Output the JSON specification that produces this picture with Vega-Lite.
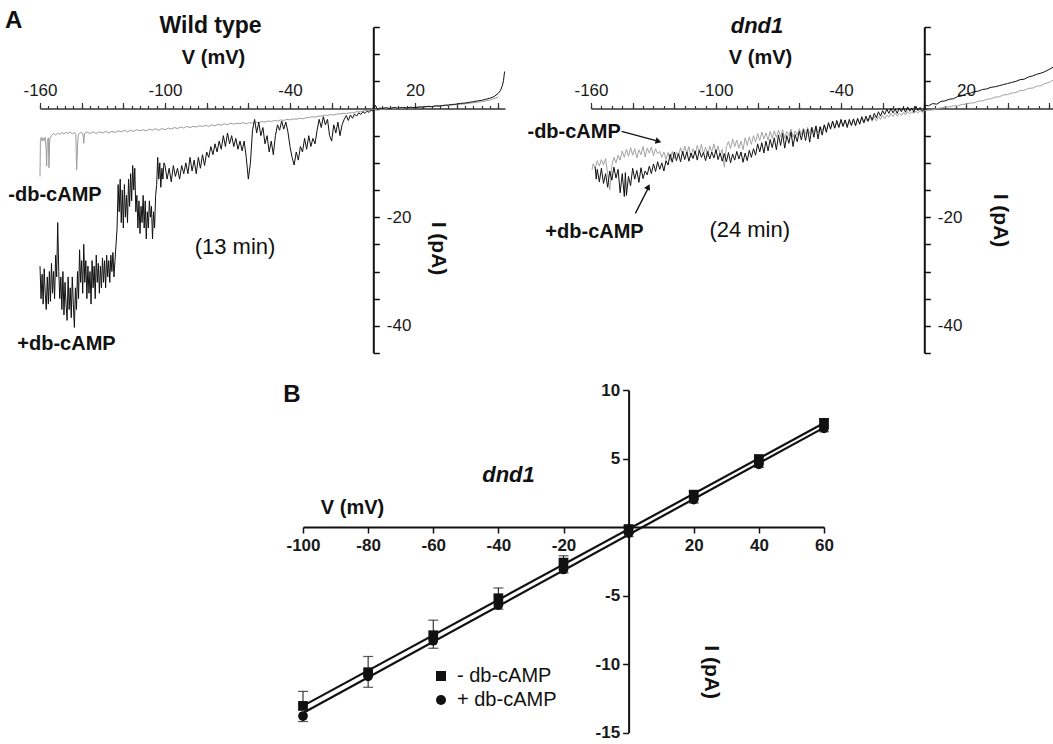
{
"$schema":"https://vega.github.io/schema/vega-lite/v6.json",
"width":1053,"height":744,"autosize":"none","padding":0,"background":"white",
"config":{"view":{"stroke":null},"axis":{"grid":false,"labelFont":"Liberation Sans","titleFont":"Liberation Sans","labelColor":"#1a1a1a","titleColor":"#111"},"text":{"font":"Liberation Sans","color":"#111"},
"legend":{"labelFont":"Liberation Sans"}},
"datasets":{
"wt_minus":[{"V":-160,"I":-12.5},{"V":-159.8,"I":-5.9},{"V":-159.4,"I":-5.3},{"V":-159,"I":-6.0},{"V":-158.5,"I":-5.4},{"V":-158,"I":-5.9},{"V":-157.5,"I":-5.3},{"V":-157,"I":-7.9},{"V":-156.8,"I":-10.6},{"V":-156.5,"I":-6.1},{"V":-156,"I":-5.4},{"V":-155.7,"I":-10.9},{"V":-155.3,"I":-5.6},{"V":-154.5,"I":-5.0},{"V":-153.5,"I":-4.6},{"V":-152.5,"I":-4.9},{"V":-151.5,"I":-4.5},{"V":-150.5,"I":-4.8},{"V":-149.5,"I":-4.4},{"V":-148.5,"I":-4.7},{"V":-147.5,"I":-4.4},{"V":-146.5,"I":-4.6},{"V":-145.5,"I":-4.3},{"V":-144.5,"I":-4.7},{"V":-143.5,"I":-4.4},{"V":-142.8,"I":-4.8},{"V":-142.4,"I":-11.3},{"V":-142,"I":-6.9},{"V":-141.6,"I":-4.8},{"V":-140.6,"I":-4.4},{"V":-139.4,"I":-4.6},{"V":-139,"I":-6.4},{"V":-138.6,"I":-4.6},{"V":-137.5,"I":-4.3},{"V":-136,"I":-4.6},{"V":-134.5,"I":-4.3},{"V":-133,"I":-4.6},{"V":-131.5,"I":-4.3},{"V":-130,"I":-4.5},{"V":-128.5,"I":-4.2},{"V":-127,"I":-4.5},{"V":-125.5,"I":-4.2},{"V":-124,"I":-4.4},{"V":-122.5,"I":-4.1},{"V":-121,"I":-4.3},{"V":-119.5,"I":-4.0},{"V":-118,"I":-4.3},{"V":-116.5,"I":-4.0},{"V":-115,"I":-4.2},{"V":-113.5,"I":-3.9},{"V":-112,"I":-4.1},{"V":-110.5,"I":-3.9},{"V":-109,"I":-4.1},{"V":-107.5,"I":-3.8},{"V":-106,"I":-4.0},{"V":-104.5,"I":-3.7},{"V":-103,"I":-4.0},{"V":-101.5,"I":-3.7},{"V":-100,"I":-3.9},{"V":-98.5,"I":-3.6},{"V":-97,"I":-3.8},{"V":-95.5,"I":-3.5},{"V":-94,"I":-3.7},{"V":-92.5,"I":-3.4},{"V":-91,"I":-3.6},{"V":-89.5,"I":-3.3},{"V":-88,"I":-3.5},{"V":-86.5,"I":-3.3},{"V":-85,"I":-3.4},{"V":-83.5,"I":-3.2},{"V":-82,"I":-3.3},{"V":-80.5,"I":-3.1},{"V":-79,"I":-3.3},{"V":-77.5,"I":-3.0},{"V":-76,"I":-3.2},{"V":-74.5,"I":-2.9},{"V":-73,"I":-3.1},{"V":-71.5,"I":-2.8},{"V":-70,"I":-3.0},{"V":-68.5,"I":-2.7},{"V":-67,"I":-2.9},{"V":-65.5,"I":-2.7},{"V":-64,"I":-2.8},{"V":-62.5,"I":-2.6},{"V":-61,"I":-2.8},{"V":-59.5,"I":-2.6},{"V":-58,"I":-2.7},{"V":-56.5,"I":-2.5},{"V":-55,"I":-2.6},{"V":-53.5,"I":-2.4},{"V":-52,"I":-2.5},{"V":-50.5,"I":-2.3},{"V":-49,"I":-2.4},{"V":-47.5,"I":-2.2},{"V":-46,"I":-2.3},{"V":-44.5,"I":-2.1},{"V":-43,"I":-2.2},{"V":-41.5,"I":-2.0},{"V":-40,"I":-2.1},{"V":-38.5,"I":-1.9},{"V":-37,"I":-2.0},{"V":-35.5,"I":-1.8},{"V":-34,"I":-1.9},{"V":-32.5,"I":-1.7},{"V":-31,"I":-1.7},{"V":-29.5,"I":-1.5},{"V":-28,"I":-1.6},{"V":-26.5,"I":-1.4},{"V":-25,"I":-1.4},{"V":-23.5,"I":-1.2},{"V":-22,"I":-1.3},{"V":-20.5,"I":-1.1},{"V":-19,"I":-1.2},{"V":-17.5,"I":-1.0},{"V":-16,"I":-1.0},{"V":-14.5,"I":-0.9},{"V":-13,"I":-0.9},{"V":-11.5,"I":-0.8},{"V":-10,"I":-0.8},{"V":-8,"I":-0.6},{"V":-6,"I":-0.6},{"V":-4,"I":-0.4},{"V":-2,"I":-0.4},{"V":0,"I":-0.2},{"V":4,"I":-0.1},{"V":8,"I":0.05},{"V":12,"I":0.0},{"V":16,"I":0.15},{"V":20,"I":0.15},{"V":24,"I":0.3},{"V":28,"I":0.35},{"V":32,"I":0.5},{"V":36,"I":0.55},{"V":40,"I":0.75},{"V":44,"I":0.85},{"V":48,"I":1.05},{"V":52,"I":1.25},{"V":56,"I":1.55},{"V":60,"I":2.1}],
"wt_plus":[{"V":-160,"I":-29},{"V":-159.5,"I":-35},{"V":-159,"I":-30.5},{"V":-158.5,"I":-36},{"V":-158,"I":-29.5},{"V":-157.5,"I":-34},{"V":-157,"I":-37},{"V":-156.5,"I":-31},{"V":-156,"I":-36},{"V":-155.5,"I":-30},{"V":-155,"I":-35.5},{"V":-154.5,"I":-28.5},{"V":-154,"I":-34},{"V":-153.5,"I":-30},{"V":-153,"I":-35},{"V":-152.5,"I":-27},{"V":-152,"I":-31},{"V":-151.5,"I":-21},{"V":-151,"I":-30},{"V":-150.5,"I":-35},{"V":-150,"I":-31},{"V":-149.5,"I":-37},{"V":-149,"I":-30},{"V":-148.5,"I":-38},{"V":-148,"I":-32},{"V":-147.5,"I":-36},{"V":-147,"I":-39},{"V":-146.5,"I":-31},{"V":-146,"I":-37},{"V":-145.5,"I":-33},{"V":-145,"I":-38.5},{"V":-144.5,"I":-31},{"V":-144,"I":-36},{"V":-143.5,"I":-40.3},{"V":-143,"I":-33},{"V":-142.5,"I":-37},{"V":-142,"I":-30},{"V":-141.5,"I":-35},{"V":-141,"I":-26},{"V":-140.5,"I":-32},{"V":-140,"I":-28},{"V":-139.5,"I":-34},{"V":-139,"I":-25},{"V":-138.5,"I":-32},{"V":-138,"I":-28},{"V":-137.5,"I":-35},{"V":-137,"I":-29},{"V":-136.5,"I":-34},{"V":-136,"I":-30},{"V":-135.5,"I":-36},{"V":-135,"I":-28},{"V":-134.5,"I":-33},{"V":-134,"I":-29},{"V":-133.5,"I":-35},{"V":-133,"I":-27},{"V":-132.5,"I":-32},{"V":-132,"I":-28.5},{"V":-131.5,"I":-34},{"V":-131,"I":-29},{"V":-130.5,"I":-33},{"V":-130,"I":-27.5},{"V":-129.5,"I":-32},{"V":-129,"I":-28},{"V":-128.5,"I":-33},{"V":-128,"I":-27},{"V":-127.5,"I":-31},{"V":-127,"I":-28},{"V":-126.5,"I":-32},{"V":-126,"I":-27},{"V":-125.5,"I":-30},{"V":-125,"I":-26.5},{"V":-124.5,"I":-31},{"V":-124,"I":-28},{"V":-123.5,"I":-25},{"V":-123,"I":-22},{"V":-122.5,"I":-14},{"V":-122,"I":-19},{"V":-121.5,"I":-13},{"V":-121,"I":-21},{"V":-120.5,"I":-15},{"V":-120,"I":-22},{"V":-119.5,"I":-14},{"V":-119,"I":-20},{"V":-118.5,"I":-16},{"V":-118,"I":-21},{"V":-117.5,"I":-13},{"V":-117,"I":-18},{"V":-116.5,"I":-12},{"V":-116,"I":-17},{"V":-115.5,"I":-10.5},{"V":-115,"I":-15},{"V":-114.5,"I":-11},{"V":-114,"I":-19},{"V":-113.5,"I":-16},{"V":-113,"I":-22},{"V":-112.5,"I":-17},{"V":-112,"I":-23},{"V":-111.5,"I":-18},{"V":-111,"I":-21},{"V":-110.5,"I":-16},{"V":-110,"I":-22},{"V":-109.5,"I":-17},{"V":-109,"I":-24},{"V":-108.5,"I":-19},{"V":-108,"I":-22},{"V":-107.5,"I":-17},{"V":-107,"I":-20},{"V":-106.5,"I":-18},{"V":-106,"I":-24},{"V":-105.5,"I":-19},{"V":-105,"I":-22},{"V":-104.5,"I":-16},{"V":-104,"I":-14},{"V":-103.5,"I":-9},{"V":-103,"I":-13},{"V":-102.5,"I":-10},{"V":-102,"I":-14.5},{"V":-101.5,"I":-11},{"V":-101,"I":-13},{"V":-100.5,"I":-10},{"V":-100,"I":-10.5},{"V":-99,"I":-13},{"V":-98,"I":-11},{"V":-97,"I":-13.5},{"V":-96,"I":-10.5},{"V":-95,"I":-12.5},{"V":-94,"I":-11},{"V":-93,"I":-13},{"V":-92,"I":-10.5},{"V":-91,"I":-12},{"V":-90,"I":-10},{"V":-89,"I":-12},{"V":-88,"I":-9},{"V":-87,"I":-11.5},{"V":-86,"I":-9.5},{"V":-85,"I":-12},{"V":-84,"I":-9},{"V":-83,"I":-11},{"V":-82,"I":-8.5},{"V":-81,"I":-10.5},{"V":-80,"I":-8},{"V":-79,"I":-9},{"V":-78,"I":-7},{"V":-77,"I":-8.5},{"V":-76,"I":-6.5},{"V":-75,"I":-8},{"V":-74,"I":-6},{"V":-73,"I":-7.5},{"V":-72,"I":-5},{"V":-71,"I":-7},{"V":-70,"I":-4.5},{"V":-69,"I":-6.5},{"V":-68,"I":-5},{"V":-67,"I":-7},{"V":-66,"I":-5.5},{"V":-65,"I":-7.5},{"V":-64,"I":-6},{"V":-63,"I":-7.8},{"V":-62,"I":-6},{"V":-61,"I":-9},{"V":-60,"I":-13},{"V":-59,"I":-10},{"V":-58,"I":-4},{"V":-57,"I":-2},{"V":-56,"I":-4.5},{"V":-55,"I":-2.5},{"V":-54,"I":-5},{"V":-53,"I":-3.5},{"V":-52,"I":-6.5},{"V":-51,"I":-5},{"V":-50,"I":-8},{"V":-49,"I":-6},{"V":-48,"I":-8.5},{"V":-47,"I":-5},{"V":-46,"I":-3},{"V":-45,"I":-4},{"V":-44,"I":-2.3},{"V":-43,"I":-3.8},{"V":-42,"I":-2.5},{"V":-41,"I":-4.3},{"V":-40,"I":-7},{"V":-39,"I":-9},{"V":-38,"I":-10.4},{"V":-37,"I":-8},{"V":-36,"I":-9.5},{"V":-35,"I":-7},{"V":-34,"I":-8},{"V":-33,"I":-5.5},{"V":-32,"I":-7.5},{"V":-31,"I":-5},{"V":-30,"I":-7},{"V":-29,"I":-5.5},{"V":-28,"I":-6.5},{"V":-27,"I":-4},{"V":-26,"I":-2},{"V":-25,"I":-3.5},{"V":-24,"I":-1.5},{"V":-23,"I":-3},{"V":-22,"I":-2},{"V":-21,"I":-5},{"V":-20,"I":-6},{"V":-19,"I":-3},{"V":-18,"I":-4.5},{"V":-17,"I":-2.5},{"V":-16,"I":-5},{"V":-15,"I":-3},{"V":-14,"I":-2},{"V":-13,"I":-1.3},{"V":-12,"I":-2.2},{"V":-11,"I":-1.2},{"V":-10,"I":-1.8},{"V":-9,"I":-1.0},{"V":-8,"I":-1.4},{"V":-7,"I":-0.8},{"V":-6,"I":-1.1},{"V":-5,"I":-0.6},{"V":-4,"I":-0.9},{"V":-3,"I":-0.5},{"V":-2,"I":-0.7},{"V":-1,"I":-0.3},{"V":0,"I":-0.5},{"V":1,"I":0.6},{"V":2,"I":-0.2},{"V":3,"I":0.1},{"V":4,"I":0.0},{"V":6,"I":0.15},{"V":8,"I":0.0},{"V":10,"I":0.2},{"V":12,"I":0.05},{"V":14,"I":0.2},{"V":16,"I":0.1},{"V":18,"I":0.25},{"V":20,"I":0.15},{"V":22,"I":0.3},{"V":24,"I":0.25},{"V":26,"I":0.4},{"V":28,"I":0.35},{"V":30,"I":0.5},{"V":32,"I":0.45},{"V":34,"I":0.6},{"V":36,"I":0.65},{"V":38,"I":0.75},{"V":40,"I":0.8},{"V":42,"I":0.95},{"V":44,"I":1.0},{"V":46,"I":1.15},{"V":48,"I":1.25},{"V":50,"I":1.4},{"V":52,"I":1.5},{"V":54,"I":1.7},{"V":56,"I":1.9},{"V":58,"I":2.2},{"V":60,"I":2.8},{"V":61,"I":3.3},{"V":62,"I":4.3},{"V":62.5,"I":5.2},{"V":63,"I":6.8}],
"dnd_minus":[{"V":-159.5,"I":-11.3},{"V":-159,"I":-10.2},{"V":-158,"I":-11.0},{"V":-157,"I":-9.6},{"V":-156,"I":-10.6},{"V":-155,"I":-9.4},{"V":-154,"I":-10.4},{"V":-153,"I":-9.2},{"V":-152,"I":-12.0},{"V":-151,"I":-15.0},{"V":-150,"I":-10.5},{"V":-149,"I":-9.0},{"V":-148,"I":-10.0},{"V":-147,"I":-8.6},{"V":-146,"I":-9.5},{"V":-145,"I":-7.8},{"V":-144,"I":-9.0},{"V":-143,"I":-7.5},{"V":-142,"I":-8.8},{"V":-141,"I":-7.2},{"V":-140,"I":-8.6},{"V":-139,"I":-7.4},{"V":-138,"I":-9.1},{"V":-137,"I":-7.6},{"V":-136,"I":-8.5},{"V":-135,"I":-7.0},{"V":-134,"I":-8.9},{"V":-133,"I":-7.3},{"V":-132,"I":-8.2},{"V":-131,"I":-7.1},{"V":-130,"I":-8.7},{"V":-129,"I":-7.4},{"V":-128,"I":-8.3},{"V":-127,"I":-7.9},{"V":-126,"I":-9.0},{"V":-125,"I":-8.0},{"V":-124,"I":-9.4},{"V":-123,"I":-8.1},{"V":-122,"I":-9.6},{"V":-121,"I":-7.9},{"V":-120,"I":-9.2},{"V":-119,"I":-8.0},{"V":-118,"I":-8.8},{"V":-117,"I":-7.2},{"V":-116,"I":-8.6},{"V":-115,"I":-6.9},{"V":-114,"I":-8.3},{"V":-113,"I":-7.0},{"V":-112,"I":-9.0},{"V":-111,"I":-7.4},{"V":-110,"I":-8.5},{"V":-109,"I":-6.8},{"V":-108,"I":-8.1},{"V":-107,"I":-6.6},{"V":-106,"I":-8.4},{"V":-105,"I":-7.1},{"V":-104,"I":-8.8},{"V":-103,"I":-6.9},{"V":-102,"I":-7.9},{"V":-101,"I":-6.5},{"V":-100,"I":-8.2},{"V":-99,"I":-6.9},{"V":-98,"I":-8.6},{"V":-97,"I":-7.5},{"V":-96,"I":-10.8},{"V":-95,"I":-7.0},{"V":-94,"I":-6.1},{"V":-93,"I":-7.4},{"V":-92,"I":-5.6},{"V":-91,"I":-7.0},{"V":-90,"I":-5.8},{"V":-89,"I":-7.3},{"V":-88,"I":-6.0},{"V":-87,"I":-7.6},{"V":-86,"I":-5.4},{"V":-85,"I":-6.8},{"V":-84,"I":-5.2},{"V":-83,"I":-6.6},{"V":-82,"I":-5.0},{"V":-81,"I":-6.2},{"V":-80,"I":-4.6},{"V":-79,"I":-5.9},{"V":-78,"I":-4.3},{"V":-77,"I":-5.6},{"V":-76,"I":-4.5},{"V":-75,"I":-5.8},{"V":-74,"I":-4.2},{"V":-73,"I":-5.5},{"V":-72,"I":-4.1},{"V":-71,"I":-5.3},{"V":-70,"I":-4.0},{"V":-69,"I":-5.2},{"V":-68,"I":-3.9},{"V":-67,"I":-5.5},{"V":-66,"I":-4.2},{"V":-65,"I":-5.0},{"V":-64,"I":-3.8},{"V":-63,"I":-5.3},{"V":-62,"I":-4.1},{"V":-61,"I":-4.9},{"V":-60,"I":-3.7},{"V":-59,"I":-4.8},{"V":-58,"I":-3.6},{"V":-57,"I":-4.7},{"V":-56,"I":-3.5},{"V":-55,"I":-4.6},{"V":-54,"I":-3.4},{"V":-53,"I":-4.4},{"V":-52,"I":-3.3},{"V":-51,"I":-4.5},{"V":-50,"I":-3.2},{"V":-49,"I":-4.1},{"V":-48,"I":-3.0},{"V":-47,"I":-3.9},{"V":-46,"I":-2.8},{"V":-45,"I":-3.6},{"V":-44,"I":-2.5},{"V":-43,"I":-3.7},{"V":-42,"I":-2.6},{"V":-41,"I":-3.4},{"V":-40,"I":-2.3},{"V":-39,"I":-3.3},{"V":-38,"I":-2.2},{"V":-37,"I":-3.1},{"V":-36,"I":-2.4},{"V":-35,"I":-3.2},{"V":-34,"I":-2.1},{"V":-33,"I":-2.9},{"V":-32,"I":-2.0},{"V":-31,"I":-2.8},{"V":-30,"I":-1.8},{"V":-29,"I":-2.7},{"V":-28,"I":-1.9},{"V":-27,"I":-2.5},{"V":-26,"I":-1.6},{"V":-25,"I":-2.4},{"V":-24,"I":-1.5},{"V":-23,"I":-2.3},{"V":-22,"I":-1.4},{"V":-21,"I":-2.0},{"V":-20,"I":-1.3},{"V":-19,"I":-1.9},{"V":-18,"I":-1.2},{"V":-17,"I":-1.6},{"V":-16,"I":-0.9},{"V":-15,"I":-1.5},{"V":-14,"I":-0.8},{"V":-13,"I":-1.4},{"V":-12,"I":-0.9},{"V":-11,"I":-1.3},{"V":-10,"I":-0.7},{"V":-9,"I":-1.2},{"V":-8,"I":-0.6},{"V":-7,"I":-1.0},{"V":-6,"I":-0.6},{"V":-5,"I":-0.9},{"V":-4,"I":-0.5},{"V":-3,"I":-0.8},{"V":-2,"I":-0.4},{"V":-1,"I":-0.7},{"V":0,"I":-0.4},{"V":2,"I":-0.2},{"V":4,"I":-0.3},{"V":6,"I":0.0},{"V":8,"I":0.1},{"V":10,"I":0.25},{"V":12,"I":0.3},{"V":14,"I":0.5},{"V":16,"I":0.45},{"V":18,"I":0.75},{"V":20,"I":0.8},{"V":22,"I":1.0},{"V":24,"I":1.05},{"V":26,"I":1.35},{"V":28,"I":1.4},{"V":30,"I":1.7},{"V":32,"I":1.75},{"V":34,"I":2.1},{"V":36,"I":2.15},{"V":38,"I":2.5},{"V":40,"I":2.55},{"V":42,"I":2.85},{"V":44,"I":2.95},{"V":46,"I":3.3},{"V":48,"I":3.35},{"V":50,"I":3.7},{"V":52,"I":3.75},{"V":54,"I":4.1},{"V":56,"I":4.2},{"V":58,"I":4.6},{"V":60,"I":4.8},{"V":61.8,"I":5.2}],
"dnd_plus":[{"V":-158,"I":-10.8},{"V":-157.5,"I":-13.0},{"V":-157,"I":-11.2},{"V":-156,"I":-13.5},{"V":-155,"I":-11.0},{"V":-154,"I":-13.8},{"V":-153,"I":-12.0},{"V":-152,"I":-14.5},{"V":-151,"I":-11.5},{"V":-150,"I":-13.2},{"V":-149,"I":-10.8},{"V":-148,"I":-12.8},{"V":-147,"I":-11.2},{"V":-146,"I":-15.5},{"V":-145,"I":-12.0},{"V":-144,"I":-16.2},{"V":-143.5,"I":-11.8},{"V":-143,"I":-16.0},{"V":-142,"I":-12.5},{"V":-141,"I":-14.2},{"V":-140,"I":-11.0},{"V":-139,"I":-13.0},{"V":-138,"I":-11.4},{"V":-137,"I":-13.6},{"V":-136,"I":-10.9},{"V":-135,"I":-12.9},{"V":-134,"I":-11.5},{"V":-133,"I":-12.2},{"V":-132,"I":-10.6},{"V":-131,"I":-12.0},{"V":-130,"I":-10.2},{"V":-129,"I":-11.6},{"V":-128,"I":-9.8},{"V":-127,"I":-11.2},{"V":-126,"I":-10.0},{"V":-125,"I":-11.5},{"V":-124,"I":-9.6},{"V":-123,"I":-10.4},{"V":-122,"I":-8.4},{"V":-121,"I":-9.9},{"V":-120,"I":-8.0},{"V":-119,"I":-9.6},{"V":-118,"I":-8.3},{"V":-117,"I":-9.8},{"V":-116,"I":-7.9},{"V":-115,"I":-9.4},{"V":-114,"I":-8.0},{"V":-113,"I":-9.7},{"V":-112,"I":-8.2},{"V":-111,"I":-9.2},{"V":-110,"I":-7.8},{"V":-109,"I":-9.5},{"V":-108,"I":-7.7},{"V":-107,"I":-9.0},{"V":-106,"I":-8.1},{"V":-105,"I":-9.6},{"V":-104,"I":-7.9},{"V":-103,"I":-9.3},{"V":-102,"I":-8.0},{"V":-101,"I":-9.1},{"V":-100,"I":-7.6},{"V":-99,"I":-9.4},{"V":-98,"I":-8.2},{"V":-97,"I":-9.7},{"V":-96,"I":-8.3},{"V":-95,"I":-9.8},{"V":-94,"I":-8.1},{"V":-93,"I":-10.0},{"V":-92,"I":-8.4},{"V":-91,"I":-9.5},{"V":-90,"I":-7.9},{"V":-89,"I":-9.3},{"V":-88,"I":-8.0},{"V":-87,"I":-9.9},{"V":-86,"I":-8.2},{"V":-85,"I":-9.6},{"V":-84,"I":-7.7},{"V":-83,"I":-9.0},{"V":-82,"I":-7.4},{"V":-81,"I":-8.6},{"V":-80,"I":-6.5},{"V":-79,"I":-8.0},{"V":-78,"I":-6.3},{"V":-77,"I":-8.2},{"V":-76,"I":-6.0},{"V":-75,"I":-7.8},{"V":-74,"I":-5.7},{"V":-73,"I":-7.2},{"V":-72,"I":-5.4},{"V":-71,"I":-7.6},{"V":-70,"I":-4.9},{"V":-69,"I":-6.8},{"V":-68,"I":-4.6},{"V":-67,"I":-7.3},{"V":-66,"I":-5.0},{"V":-65,"I":-6.4},{"V":-64,"I":-4.3},{"V":-63,"I":-7.0},{"V":-62,"I":-4.8},{"V":-61,"I":-6.1},{"V":-60,"I":-4.2},{"V":-59,"I":-5.8},{"V":-58,"I":-3.9},{"V":-57,"I":-5.9},{"V":-56,"I":-3.8},{"V":-55,"I":-6.2},{"V":-54,"I":-3.5},{"V":-53,"I":-5.3},{"V":-52,"I":-3.2},{"V":-51,"I":-5.6},{"V":-50,"I":-3.4},{"V":-49,"I":-4.9},{"V":-48,"I":-3.0},{"V":-47,"I":-4.4},{"V":-46,"I":-2.6},{"V":-45,"I":-3.8},{"V":-44,"I":-2.3},{"V":-43,"I":-3.6},{"V":-42,"I":-2.2},{"V":-41,"I":-3.5},{"V":-40,"I":-2.0},{"V":-39,"I":-3.3},{"V":-38,"I":-2.1},{"V":-37,"I":-3.5},{"V":-36,"I":-2.0},{"V":-35,"I":-3.1},{"V":-34,"I":-1.9},{"V":-33,"I":-3.2},{"V":-32,"I":-1.8},{"V":-31,"I":-2.9},{"V":-30,"I":-1.5},{"V":-29,"I":-2.6},{"V":-28,"I":-1.4},{"V":-27,"I":-2.3},{"V":-26,"I":-1.2},{"V":-25,"I":-2.1},{"V":-24,"I":-0.9},{"V":-23,"I":-1.7},{"V":-22,"I":-0.6},{"V":-21,"I":-1.4},{"V":-20,"I":-0.4},{"V":-19,"I":-1.1},{"V":-18,"I":-0.1},{"V":-17,"I":-0.9},{"V":-16,"I":0.0},{"V":-15,"I":-0.8},{"V":-14,"I":-0.1},{"V":-13,"I":-0.9},{"V":-12,"I":0.1},{"V":-11,"I":-0.6},{"V":-10,"I":0.2},{"V":-9,"I":-0.7},{"V":-8,"I":0.3},{"V":-7,"I":-0.5},{"V":-6,"I":0.1},{"V":-5,"I":-0.7},{"V":-4,"I":0.4},{"V":-3,"I":-0.4},{"V":-2,"I":0.2},{"V":-1,"I":-0.5},{"V":0,"I":-0.2},{"V":0.5,"I":0.6},{"V":2,"I":0.5},{"V":4,"I":0.9},{"V":6,"I":0.8},{"V":8,"I":1.3},{"V":10,"I":1.4},{"V":12,"I":1.7},{"V":14,"I":1.8},{"V":16,"I":2.2},{"V":18,"I":2.3},{"V":20,"I":2.7},{"V":22,"I":2.8},{"V":24,"I":3.1},{"V":26,"I":3.2},{"V":28,"I":3.5},{"V":30,"I":3.6},{"V":32,"I":3.9},{"V":34,"I":4.0},{"V":36,"I":4.2},{"V":38,"I":4.4},{"V":40,"I":4.6},{"V":42,"I":4.8},{"V":44,"I":5.0},{"V":46,"I":5.3},{"V":48,"I":5.4},{"V":50,"I":5.8},{"V":52,"I":6.0},{"V":54,"I":6.3},{"V":56,"I":6.5},{"V":58,"I":6.8},{"V":60,"I":7.2},{"V":61.8,"I":7.6}],
"b":[{"V":-100,"I":-13.06,"cap":-12.0,"series":"- db-cAMP"},{"V":-80,"I":-10.6,"cap":-9.45,"series":"- db-cAMP"},{"V":-60,"I":-7.9,"cap":-6.8,"series":"- db-cAMP"},{"V":-40,"I":-5.2,"cap":-4.45,"series":"- db-cAMP"},{"V":-20,"I":-2.6,"cap":-2.1,"series":"- db-cAMP"},{"V":0,"I":-0.15,"cap":0.1,"series":"- db-cAMP"},{"V":20,"I":2.36,"cap":2.6,"series":"- db-cAMP"},{"V":40,"I":4.96,"cap":5.15,"series":"- db-cAMP"},{"V":60,"I":7.6,"cap":7.9,"series":"- db-cAMP"},
{"V":-100,"I":-13.8,"cap":-14.2,"series":"+ db-cAMP"},{"V":-80,"I":-10.9,"cap":-11.7,"series":"+ db-cAMP"},{"V":-60,"I":-8.3,"cap":-8.85,"series":"+ db-cAMP"},{"V":-40,"I":-5.7,"cap":-6.0,"series":"+ db-cAMP"},{"V":-20,"I":-3.1,"cap":-3.35,"series":"+ db-cAMP"},{"V":0,"I":-0.45,"cap":-0.7,"series":"+ db-cAMP"},{"V":20,"I":2.0,"cap":1.75,"series":"+ db-cAMP"},{"V":40,"I":4.58,"cap":4.35,"series":"+ db-cAMP"},{"V":60,"I":7.2,"cap":6.95,"series":"+ db-cAMP"}]
},
"layer":[
{
"layer":[
{"data":{"name":"wt_minus"},"mark":{"type":"line","color":"#9c9c9c","strokeWidth":1},
"encoding":{
"x":{"field":"V","type":"quantitative","scale":{"domain":[-160,63.2],"range":[40,505],"nice":false,"zero":false},
"axis":{"orient":"top","offset":-108.5,"values":[-160,-156,-152,-148,-144,-140,-136,-132,-128,-124,-120,-116,-112,-108,-104,-100,-96,-92,-88,-84,-80,-76,-72,-68,-64,-60,-56,-52,-48,-44,-40,-36,-32,-28,-24,-20,-16,-12,-8,-4,0,4,8,12,16,20,24,28,32,36,40,44,48,52,56,60],"tickSize":3,"tickWidth":1.2,"tickColor":"#333","labels":false,"domain":true,"domainWidth":1.5,"domainColor":"#333","title":null}},
"y":{"field":"I","type":"quantitative","scale":{"domain":[-45,15],"range":[353,27],"nice":false,"zero":false},
"axis":{"orient":"right","offset":-679.7,"values":[-45,-40,-35,-30,-25,-20,-15,-10,-5,0,5,10,15],"tickSize":6,"tickWidth":1.5,"tickColor":"#111","domainWidth":2,"domainColor":"#111","labelExpr":"datum.value == -20 || datum.value == -40 ? '' + datum.value : ''","labelFontSize":17,"labelPadding":7,"labelBaseline":"middle","labelOverlap":false,"title":"I (pA)","titleAngle":90,"titleX":63.7,"titleY":248,"titleAlign":"center","titleBaseline":"middle","titleFontSize":21,"titleFontWeight":"bold"}}}},
{"data":{"name":"wt_plus"},"mark":{"type":"line","color":"#111","strokeWidth":1},
"encoding":{
"x":{"field":"V","type":"quantitative","scale":{"domain":[-160,63.2],"range":[40,505],"nice":false,"zero":false},
"axis":{"orient":"top","offset":-108.5,"values":[-160,-140,-120,-100,-80,-60,-40,-20,0,20,40,60],"tickSize":6,"tickWidth":1.2,"tickColor":"#333","domain":false,"labelExpr":"indexof([-160,-100,-40,20], datum.value) >= 0 ? '' + datum.value : ''","labelFontSize":17,"labelPadding":7.5,"labelBaseline":"alphabetic","labelFlush":false,"labelOverlap":false,"title":"V (mV)","titleX":213,"titleY":-45.5,"titleAlign":"center","titleBaseline":"alphabetic","titleFontSize":20,"titleFontWeight":"bold"}},
"y":{"field":"I","type":"quantitative","scale":{"domain":[-45,15],"range":[353,27],"nice":false,"zero":false},"axis":null}}},
{"data":{"values":[{"V":-152.8,"I":-17.0,"t":"-db-cAMP"},{"V":-147.3,"I":-44.45,"t":"+db-cAMP"}]},
"mark":{"type":"text","fontSize":20,"fontWeight":"bold","align":"center","baseline":"alphabetic"},
"encoding":{"x":{"field":"V","type":"quantitative","scale":{"domain":[-160,63.2],"range":[40,505],"nice":false,"zero":false},"axis":null},"y":{"field":"I","type":"quantitative","scale":{"domain":[-45,15],"range":[353,27],"nice":false,"zero":false},"axis":null},"text":{"field":"t"}}},
{"data":{"values":[{"V":-66.4,"I":-26.8,"t":"(13 min)"}]},
"mark":{"type":"text","fontSize":22,"align":"center","baseline":"alphabetic"},
"encoding":{"x":{"field":"V","type":"quantitative","scale":{"domain":[-160,63.2],"range":[40,505],"nice":false,"zero":false},"axis":null},"y":{"field":"I","type":"quantitative","scale":{"domain":[-45,15],"range":[353,27],"nice":false,"zero":false},"axis":null},"text":{"field":"t"}}},
{"data":{"values":[{"V":-78.1,"I":13.95,"t":"Wild type"}]},
"mark":{"type":"text","fontSize":23,"fontWeight":"bold","align":"center","baseline":"alphabetic"},
"encoding":{"x":{"field":"V","type":"quantitative","scale":{"domain":[-160,63.2],"range":[40,505],"nice":false,"zero":false},"axis":null},"y":{"field":"I","type":"quantitative","scale":{"domain":[-45,15],"range":[353,27],"nice":false,"zero":false},"axis":null},"text":{"field":"t"}}},
{"data":{"values":[{"V":-176.8,"I":14.8,"t":"A"}]},
"mark":{"type":"text","fontSize":24,"fontWeight":"bold","align":"left","baseline":"alphabetic"},
"encoding":{"x":{"field":"V","type":"quantitative","scale":{"domain":[-160,63.2],"range":[40,505],"nice":false,"zero":false},"axis":null},"y":{"field":"I","type":"quantitative","scale":{"domain":[-45,15],"range":[353,27],"nice":false,"zero":false},"axis":null},"text":{"field":"t"}}}
],
"resolve":{"axis":{"x":"independent","y":"independent"}}
},
{
"layer":[
{"data":{"name":"dnd_minus"},"mark":{"type":"line","color":"#a3a3a3","strokeWidth":1},
"encoding":{
"x":{"field":"V","type":"quantitative","scale":{"domain":[-160,61.8],"range":[591,1053],"nice":false,"zero":false},
"axis":{"orient":"top","offset":-108.5,"values":[-160,-155,-150,-145,-140,-135,-130,-125,-120,-115,-110,-105,-100,-95,-90,-85,-80,-75,-70,-65,-60,-55,-50,-45,-40,-35,-30,-25,-20,-15,-10,-5,0,5,10,15,20,25,30,35,40,45,50,55,60],"tickSize":3,"tickWidth":1.2,"tickColor":"#333","labels":false,"domain":true,"domainWidth":1.5,"domainColor":"#333","title":null}},
"y":{"field":"I","type":"quantitative","scale":{"domain":[-45,15],"range":[353,27],"nice":false,"zero":false},
"axis":{"orient":"right","offset":-128.7,"values":[-45,-40,-35,-30,-25,-20,-15,-10,-5,0,5,10,15],"tickSize":6,"tickWidth":1.5,"tickColor":"#111","domainWidth":2,"domainColor":"#111","labelExpr":"datum.value == -20 || datum.value == -40 ? '' + datum.value : ''","labelFontSize":17,"labelPadding":7,"labelBaseline":"middle","labelOverlap":false,"title":"I (pA)","titleAngle":90,"titleX":75.5,"titleY":220,"titleAlign":"center","titleBaseline":"middle","titleFontSize":21,"titleFontWeight":"bold"}}}},
{"data":{"name":"dnd_plus"},"mark":{"type":"line","color":"#111","strokeWidth":1},
"encoding":{
"x":{"field":"V","type":"quantitative","scale":{"domain":[-160,61.8],"range":[591,1053],"nice":false,"zero":false},
"axis":{"orient":"top","offset":-108.5,"values":[-160,-140,-120,-100,-80,-60,-40,-20,0,20,40,60],"tickSize":6,"tickWidth":1.2,"tickColor":"#333","domain":false,"labelExpr":"indexof([-160,-100,-40,20], datum.value) >= 0 ? '' + datum.value : ''","labelFontSize":17,"labelPadding":7.5,"labelBaseline":"alphabetic","labelFlush":false,"labelOverlap":false,"title":"V (mV)","titleX":760,"titleY":-45.5,"titleAlign":"center","titleBaseline":"alphabetic","titleFontSize":20,"titleFontWeight":"bold"}},
"y":{"field":"I","type":"quantitative","scale":{"domain":[-45,15],"range":[353,27],"nice":false,"zero":false},"axis":null}}},
{"data":{"values":[{"V":-168.1,"I":-5.45,"t":"-db-cAMP"},{"V":-158.3,"I":-23.8,"t":"+db-cAMP"}]},
"mark":{"type":"text","fontSize":20,"fontWeight":"bold","align":"center","baseline":"alphabetic"},
"encoding":{"x":{"field":"V","type":"quantitative","scale":{"domain":[-160,61.8],"range":[591,1053],"nice":false,"zero":false},"axis":null},"y":{"field":"I","type":"quantitative","scale":{"domain":[-45,15],"range":[353,27],"nice":false,"zero":false},"axis":null},"text":{"field":"t"}}},
{"data":{"values":[{"V":-83.8,"I":-23.6,"t":"(24 min)"}]},
"mark":{"type":"text","fontSize":22,"align":"center","baseline":"alphabetic"},
"encoding":{"x":{"field":"V","type":"quantitative","scale":{"domain":[-160,61.8],"range":[591,1053],"nice":false,"zero":false},"axis":null},"y":{"field":"I","type":"quantitative","scale":{"domain":[-45,15],"range":[353,27],"nice":false,"zero":false},"axis":null},"text":{"field":"t"}}},
{"data":{"values":[{"V":-80.3,"I":13.95,"t":"dnd1"}]},
"mark":{"type":"text","fontSize":22,"fontWeight":"bold","fontStyle":"italic","align":"center","baseline":"alphabetic"},
"encoding":{"x":{"field":"V","type":"quantitative","scale":{"domain":[-160,61.8],"range":[591,1053],"nice":false,"zero":false},"axis":null},"y":{"field":"I","type":"quantitative","scale":{"domain":[-45,15],"range":[353,27],"nice":false,"zero":false},"axis":null},"text":{"field":"t"}}},
{"data":{"values":[{"V":-145.3,"I":-4.2,"V2":-127.9,"I2":-6.0},{"V":-138.7,"I":-19.3,"V2":-132.6,"I2":-14.7}]},
"mark":{"type":"rule","color":"#111","strokeWidth":1.3},
"encoding":{"x":{"field":"V","type":"quantitative","scale":{"domain":[-160,61.8],"range":[591,1053],"nice":false,"zero":false},"axis":null},"y":{"field":"I","type":"quantitative","scale":{"domain":[-45,15],"range":[353,27],"nice":false,"zero":false},"axis":null},"x2":{"field":"V2"},"y2":{"field":"I2"}}},
{"data":{"values":[{"V":-127.6,"I":-6.05}]},
"mark":{"type":"point","shape":"triangle-right","filled":true,"color":"#111","opacity":1,"size":45,"angle":16},
"encoding":{"x":{"field":"V","type":"quantitative","scale":{"domain":[-160,61.8],"range":[591,1053],"nice":false,"zero":false},"axis":null},"y":{"field":"I","type":"quantitative","scale":{"domain":[-45,15],"range":[353,27],"nice":false,"zero":false},"axis":null}}},
{"data":{"values":[{"V":-132.5,"I":-14.4}]},
"mark":{"type":"point","shape":"triangle-right","filled":true,"color":"#111","opacity":1,"size":45,"angle":-64},
"encoding":{"x":{"field":"V","type":"quantitative","scale":{"domain":[-160,61.8],"range":[591,1053],"nice":false,"zero":false},"axis":null},"y":{"field":"I","type":"quantitative","scale":{"domain":[-45,15],"range":[353,27],"nice":false,"zero":false},"axis":null}}}
],
"resolve":{"axis":{"x":"independent","y":"independent"}}
},
{
"layer":[
{"data":{"name":"b"},"transform":[{"regression":"I","on":"V","groupby":["series"],"extent":[-100,60]}],
"mark":{"type":"line","color":"#111","strokeWidth":2.2},
"encoding":{"x":{"field":"V","type":"quantitative","scale":{"domain":[-100,60],"range":[303,824],"nice":false,"zero":false},"axis":null},"y":{"field":"I","type":"quantitative","scale":{"domain":[-15,10],"range":[732.5,390],"nice":false,"zero":false},"axis":null},"detail":{"field":"series"}}},
{"data":{"name":"b"},"mark":{"type":"rule","color":"#111","strokeWidth":1},
"encoding":{"x":{"field":"V","type":"quantitative","scale":{"domain":[-100,60],"range":[303,824],"nice":false,"zero":false},"axis":null},"y":{"field":"I","type":"quantitative","scale":{"domain":[-15,10],"range":[732.5,390],"nice":false,"zero":false},"axis":null},"y2":{"field":"cap"}}},
{"data":{"name":"b"},"mark":{"type":"tick","orient":"horizontal","color":"#111","size":10,"thickness":1.2},
"encoding":{"x":{"field":"V","type":"quantitative","scale":{"domain":[-100,60],"range":[303,824],"nice":false,"zero":false},"axis":null},"y":{"field":"cap","type":"quantitative","scale":{"domain":[-15,10],"range":[732.5,390],"nice":false,"zero":false},"axis":null}}},
{"data":{"name":"b"},"mark":{"type":"point","filled":true,"color":"#111","opacity":1,"size":95},
"encoding":{
"x":{"field":"V","type":"quantitative","scale":{"domain":[-100,60],"range":[303,824],"nice":false,"zero":false},
"axis":{"orient":"bottom","offset":-217,"values":[-100,-80,-60,-40,-20,0,20,40,60],"tickSize":6,"tickWidth":1.5,"tickColor":"#111","domainWidth":2,"domainColor":"#111","labelExpr":"datum.value == 0 ? '' : '' + datum.value","labelFontSize":17,"labelFontWeight":"bold","labelPadding":4,"labelFlush":false,"labelOverlap":false,"title":"V (mV)","titleX":352,"titleY":-14,"titleAlign":"center","titleBaseline":"alphabetic","titleFontSize":20,"titleFontWeight":"bold"}},
"y":{"field":"I","type":"quantitative","scale":{"domain":[-15,10],"range":[732.5,390],"nice":false,"zero":false},
"axis":{"orient":"left","offset":-628.6,"values":[-15,-10,-5,0,5,10],"tickSize":6,"tickWidth":1.5,"tickColor":"#111","domainWidth":2,"domainColor":"#111","labelExpr":"datum.value == 0 ? '' : '' + datum.value","labelFontSize":17,"labelFontWeight":"bold","labelPadding":3,"labelBaseline":"middle","labelOverlap":false,"title":"I (pA)","titleAngle":90,"titleX":81.5,"titleY":671.7,"titleAlign":"center","titleBaseline":"middle","titleFontSize":21,"titleFontWeight":"bold"}},
"shape":{"field":"series","type":"nominal","scale":{"domain":["- db-cAMP","+ db-cAMP"],"range":["square","circle"]},
"legend":{"orient":"none","legendX":431,"legendY":666,"title":null,"labelFontSize":20,"labelColor":"#111","symbolSize":100,"symbolFillColor":"#111","symbolStrokeColor":"#111","symbolStrokeWidth":0,"rowPadding":4,"padding":0,"labelOffset":6}}}},
{"data":{"values":[{"V":-106.1,"I":9.12,"t":"B"}]},
"mark":{"type":"text","fontSize":24,"fontWeight":"bold","align":"left","baseline":"alphabetic"},
"encoding":{"x":{"field":"V","type":"quantitative","scale":{"domain":[-100,60],"range":[303,824],"nice":false,"zero":false},"axis":null},"y":{"field":"I","type":"quantitative","scale":{"domain":[-15,10],"range":[732.5,390],"nice":false,"zero":false},"axis":null},"text":{"field":"t"}}},
{"data":{"values":[{"V":-36.9,"I":3.3,"t":"dnd1"}]},
"mark":{"type":"text","fontSize":22,"fontWeight":"bold","fontStyle":"italic","align":"center","baseline":"alphabetic"},
"encoding":{"x":{"field":"V","type":"quantitative","scale":{"domain":[-100,60],"range":[303,824],"nice":false,"zero":false},"axis":null},"y":{"field":"I","type":"quantitative","scale":{"domain":[-15,10],"range":[732.5,390],"nice":false,"zero":false},"axis":null},"text":{"field":"t"}}}
],
"resolve":{"axis":{"x":"independent","y":"independent"}}
}
],
"resolve":{"scale":{"x":"independent","y":"independent"},"axis":{"x":"independent","y":"independent"}}
}
